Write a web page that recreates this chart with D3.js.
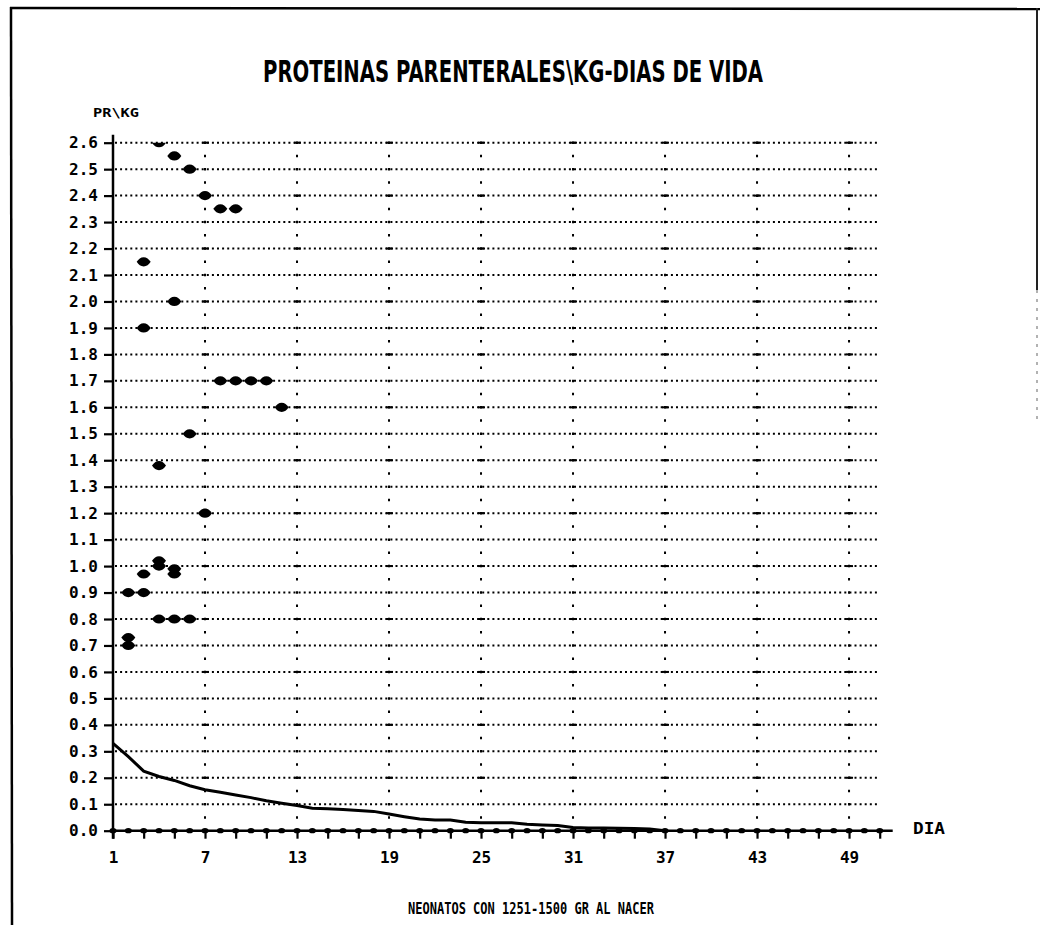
<!DOCTYPE html>
<html>
<head>
<meta charset="utf-8">
<script src="https://cdn.jsdelivr.net/npm/d3@7"></script>
<style>
  html, body { margin: 0; padding: 0; background: #fff; }
  svg { display: block; }
  text { fill: #000; }
</style>
</head>
<body>
<svg id="chart" width="1041" height="932"></svg>
<script>
// ---- data ----
const titleText = "PROTEINAS PARENTERALES\\KG-DIAS DE VIDA";
const yAxisLabel = "PR\\KG";
const xAxisLabel = "DIA";
const footnote = "NEONATOS CON 1251-1500 GR AL NACER";

const scatterDays   = [4, 5, 6, 7, 8, 9, 3, 5, 3, 8, 9, 10, 11, 12, 6, 4, 7, 3, 4, 4, 5, 5, 2, 3, 4, 5, 6, 2, 2];
const scatterValues = [2.6, 2.55, 2.5, 2.4, 2.35, 2.35, 2.15, 2.0, 1.9, 1.7, 1.7, 1.7, 1.7, 1.6, 1.5, 1.38, 1.2, 0.97, 1.0, 1.02, 0.97, 0.99, 0.9, 0.9, 0.8, 0.8, 0.8, 0.73, 0.70];

const curveDays   = [1, 2, 3, 4, 5, 6, 7, 8, 9, 10, 11, 12, 13, 14, 15, 16, 17, 18, 19, 20, 21, 22, 23, 24, 25, 26, 27, 28, 29, 30, 31, 32, 33, 34, 35, 36, 37];
const curveValues = [0.33, 0.28, 0.225, 0.205, 0.19, 0.17, 0.155, 0.145, 0.135, 0.125, 0.113, 0.104, 0.095, 0.085, 0.083, 0.08, 0.076, 0.073, 0.063, 0.053, 0.044, 0.04, 0.04, 0.032, 0.03, 0.03, 0.03, 0.024, 0.022, 0.02, 0.012, 0.01, 0.01, 0.009, 0.008, 0.006, 0.0];

const zeroDays = d3.range(1, 52);          // markers sitting on the 0.0 line
const zeroValues = zeroDays.map(() => 0);

const yTicks = d3.range(0, 27).map(i => i / 10);
const xTickDays = d3.range(1, 52, 2);
const xLabelDays = [1, 7, 13, 19, 25, 31, 37, 43, 49];
const xGridDays = [7, 13, 19, 25, 31, 37, 43, 49];

// ---- layout ----
const svg = d3.select("#chart");
const x = d3.scaleLinear().domain([1, 51]).range([113, 879.7]);
const y = d3.scaleLinear().domain([0, 2.6]).range([830.7, 142.7]);
const monoFont = "'DejaVu Sans Mono', 'Liberation Mono', monospace";

// frame
svg.append("line").attr("x1", 10).attr("x2", 1040).attr("y1", 8).attr("y2", 9)
  .attr("stroke", "#000").attr("stroke-width", 2.5);
svg.append("line").attr("x1", 11).attr("x2", 12).attr("y1", 7).attr("y2", 925)
  .attr("stroke", "#000").attr("stroke-width", 2.5);
svg.append("line").attr("x1", 1037).attr("x2", 1037).attr("y1", 8).attr("y2", 290)
  .attr("stroke", "#222").attr("stroke-width", 2);
svg.append("line").attr("x1", 1037).attr("x2", 1037).attr("y1", 290).attr("y2", 425)
  .attr("stroke", "#999").attr("stroke-width", 1.5).attr("stroke-dasharray", "3,6");

// title
svg.append("text").attr("x", 513).attr("y", 82).attr("text-anchor", "middle")
  .attr("font-family", "'Liberation Sans Narrow', 'DejaVu Sans Condensed', sans-serif")
  .attr("font-weight", "bold").attr("font-size", 31)
  .attr("textLength", 500).attr("lengthAdjust", "spacingAndGlyphs")
  .text(titleText);

// y label
svg.append("text").attr("x", 93).attr("y", 117)
  .attr("font-family", monoFont).attr("font-weight", "bold").attr("font-size", 13)
  .attr("textLength", 46).attr("lengthAdjust", "spacingAndGlyphs")
  .text(yAxisLabel);

// horizontal dotted grid
svg.append("g").selectAll("line").data(yTicks.filter(v => v > 0)).join("line")
  .attr("x1", x(1) + 2).attr("x2", x(51))
  .attr("y1", d => y(d)).attr("y2", d => y(d))
  .attr("stroke", "#000").attr("stroke-width", 2)
  .attr("stroke-dasharray", "2,3.1");

// vertical dotted grid
const step = y(0) - y(0.05);
svg.append("g").selectAll("line").data(xGridDays).join("line")
  .attr("x1", d => x(d)).attr("x2", d => x(d))
  .attr("y1", y(0)).attr("y2", y(2.6) - 2)
  .attr("stroke", "#000").attr("stroke-width", 2)
  .attr("stroke-dasharray", `2.5,${(step - 2.5).toFixed(2)}`)
  .attr("stroke-dashoffset", 1.25);

// small marks where vertical grid crosses every other horizontal gridline
const crossData = [];
xGridDays.forEach(d => yTicks.filter((v, i) => i > 0 && i % 2 === 0).forEach(v => crossData.push([d, v])));
svg.append("g").selectAll("line").data(crossData).join("line")
  .attr("x1", d => x(d[0]) - 3).attr("x2", d => x(d[0]) + 4)
  .attr("y1", d => y(d[1])).attr("y2", d => y(d[1]))
  .attr("stroke", "#000").attr("stroke-width", 2);

// y axis
const yAxis = d3.axisLeft(y).tickValues(yTicks).tickSize(9).tickPadding(6)
  .tickFormat(d3.format(".1f"));
const gy = svg.append("g").attr("transform", `translate(${x(1)},0)`).call(yAxis);
gy.select(".domain").remove();
gy.selectAll(".tick line").attr("stroke", "#000").attr("stroke-width", 2.2);
gy.selectAll(".tick text").attr("font-family", monoFont).attr("font-weight", "bold")
  .attr("font-size", 16).attr("fill", "#000");
svg.append("line").attr("x1", x(1)).attr("x2", x(1)).attr("y1", y(2.6) - 8).attr("y2", y(0) + 8)
  .attr("stroke", "#000").attr("stroke-width", 2.5);

// x axis
const xAxis = d3.axisBottom(x).tickValues(xTickDays).tickSize(8).tickPadding(13)
  .tickFormat(d => xLabelDays.includes(d) ? d : "");
const gx = svg.append("g").attr("transform", `translate(0,${y(0)})`).call(xAxis);
gx.select(".domain").remove();
gx.selectAll(".tick line").attr("stroke", "#000").attr("stroke-width", 2.2);
gx.selectAll(".tick text").attr("font-family", monoFont).attr("font-weight", "bold")
  .attr("font-size", 16).attr("fill", "#000");
svg.append("line").attr("x1", x(1)).attr("x2", x(51) + 13).attr("y1", y(0)).attr("y2", y(0))
  .attr("stroke", "#000").attr("stroke-width", 2.5);

// zero-line markers
svg.append("g").selectAll("ellipse").data(zeroDays.map((d, i) => [d, zeroValues[i]])).join("ellipse")
  .attr("cx", d => x(d[0])).attr("cy", d => y(d[1]))
  .attr("rx", 3.5).attr("ry", 2.6).attr("fill", "#000");

// decreasing curve
const curvePts = curveDays.map((d, i) => [d, curveValues[i]]);
svg.append("path").datum(curvePts)
  .attr("d", d3.line().x(d => x(d[0])).y(d => y(d[1])))
  .attr("fill", "none").attr("stroke", "#000").attr("stroke-width", 3);

// scatter points (clipped at the top of the plot)
svg.append("clipPath").attr("id", "plotclip").append("rect")
  .attr("x", x(1)).attr("y", y(2.6)).attr("width", x(51) - x(1) + 20).attr("height", y(0) - y(2.6) + 10);
const pts = scatterDays.map((d, i) => [d, scatterValues[i]]);
svg.append("g").attr("clip-path", "url(#plotclip)")
  .selectAll("path").data(pts).join("path")
  .attr("transform", d => `translate(${x(d[0])},${y(d[1])})`)
  .attr("d", "M-7,0 C-5,-3 -3,-4.5 0,-4.6 C3,-4.5 5,-3 7,0 C5,3 3,4.5 0,4.6 C-3,4.5 -5,3 -7,0 Z")
  .attr("fill", "#000");

// axis name on the right
svg.append("text").attr("x", 913).attr("y", 834)
  .attr("font-family", monoFont).attr("font-weight", "bold").attr("font-size", 15)
  .attr("textLength", 32).attr("lengthAdjust", "spacingAndGlyphs")
  .text(xAxisLabel);

// footnote
svg.append("text").attr("x", 408).attr("y", 914)
  .attr("font-family", monoFont).attr("font-weight", "bold").attr("font-size", 15)
  .attr("textLength", 246).attr("lengthAdjust", "spacingAndGlyphs")
  .text(footnote);
</script>
</body>
</html>
